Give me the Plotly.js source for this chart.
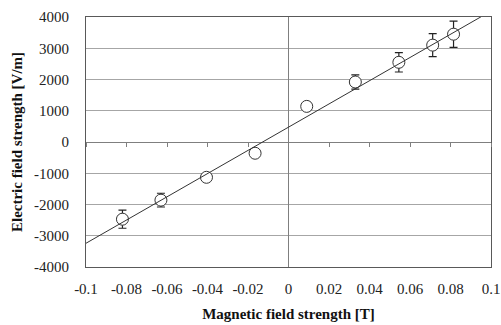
<!DOCTYPE html>
<html>
<head>
<meta charset="utf-8">
<script src="https://cdn.plot.ly/plotly-3.0.1.min.js"></script>
<style>html,body{margin:0;padding:0;background:#fff;}#chart{width:501px;height:325px;}</style>
</head>
<body>
<div id="chart"></div>
<script>
// Data
var magneticField = [-0.082, -0.063, -0.0405, -0.0165, 0.009, 0.033, 0.0545, 0.0712, 0.0815];
var electricField = [-2470, -1860, -1130, -360, 1140, 1920, 2550, 3100, 3450];
var electricError = [290, 220, 110, 60, 60, 230, 310, 370, 420];
var trendSlope = 37150;
var trendIntercept = 475;
var xTickVals = [-0.1, -0.08, -0.06, -0.04, -0.02, 0, 0.02, 0.04, 0.06, 0.08, 0.1];
var xTickText = ["-0.1", "-0.08", "-0.06", "-0.04", "-0.02", "0", "0.02", "0.04", "0.06", "0.08", "0.1"];
var yTickVals = [-4000, -3000, -2000, -1000, 0, 1000, 2000, 3000, 4000];
var yTickText = ["-4000", "-3000", "-2000", "-1000", "0", "1000", "2000", "3000", "4000"];
var xRange = [-0.1, 0.1];
var yRange = [-4000, 4000];

var trendX = xRange.slice();
var trendY = trendX.map(function (x) { return trendSlope * x + trendIntercept; });

var font = "Liberation Serif";

var data = [
  {
    x: magneticField, y: electricField, type: "scatter", mode: "markers",
    marker: {symbol: "circle", size: 12, color: "#fff", line: {color: "#333", width: 1}},
    error_y: {type: "data", array: electricError, visible: true, color: "#222", thickness: 1.2, width: 4},
    hoverinfo: "x+y", showlegend: false
  },
  {
    x: trendX, y: trendY, type: "scatter", mode: "lines",
    line: {color: "#333", width: 1}, hoverinfo: "skip", showlegend: false
  },
  {
    x: xRange, y: [0, 0], xaxis: "x2", yaxis: "y", type: "scatter", mode: "markers",
    marker: {opacity: 0}, hoverinfo: "skip", showlegend: false
  }
];

var layout = {
  width: 501, height: 325,
  margin: {l: 86, r: 10, t: 17, b: 58},
  paper_bgcolor: "#fff", plot_bgcolor: "#fff",
  font: {family: font, size: 14, color: "#222"},
  showlegend: false,
  xaxis: {
    range: xRange, tickmode: "array", tickvals: xTickVals, ticktext: xTickText,
    showgrid: false, zeroline: true, zerolinecolor: "#7f7f7f", zerolinewidth: 1,
    showline: true, mirror: true, linecolor: "#595959", linewidth: 1,
    ticks: "", ticklabelstandoff: 8,
    tickfont: {family: font, size: 15, color: "#222"},
    title: {text: "Magnetic field strength [T]", font: {family: font, size: 15, color: "#111", weight: "bold"}, standoff: 12}
  },
  xaxis2: {
    range: xRange, overlaying: "x", anchor: "free", position: 0.5, side: "bottom",
    tickmode: "array", tickvals: xTickVals, showticklabels: false,
    ticks: "outside", ticklen: 4, tickcolor: "#7f7f7f", tickwidth: 1,
    showgrid: false, zeroline: false, showline: false
  },
  yaxis: {
    range: yRange, tickmode: "array", tickvals: yTickVals, ticktext: yTickText,
    showgrid: true, gridcolor: "#a6a6a6", gridwidth: 1,
    zeroline: true, zerolinecolor: "#7f7f7f", zerolinewidth: 1,
    showline: true, mirror: true, linecolor: "#595959", linewidth: 1,
    ticks: "", ticklabelstandoff: 13,
    tickfont: {family: font, size: 15, color: "#222"},
    title: {text: "Electric field strength [V/m]", font: {family: font, size: 15, color: "#111", weight: "bold"}, standoff: 7}
  }
};

Plotly.newPlot("chart", data, layout, {staticPlot: true, displayModeBar: false});
</script>
</body>
</html>
